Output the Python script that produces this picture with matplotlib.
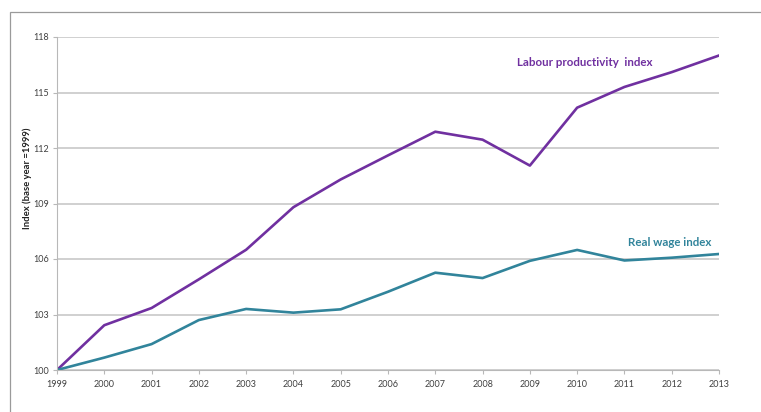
import matplotlib.pyplot as plt
from matplotlib.patches import Rectangle

years = [1999, 2000, 2001, 2002, 2003, 2004, 2005, 2006, 2007, 2008, 2009, 2010, 2011, 2012, 2013]
labour_productivity = [100, 102.42, 103.35, 104.9, 106.5, 108.8, 110.3, 111.6, 112.88, 112.45, 111.05, 114.18, 115.3, 116.1, 117.0]
real_wage = [100, 100.67, 101.4, 102.7, 103.3, 103.1, 103.28, 104.23, 105.26, 104.97, 105.9, 106.49, 105.92, 106.07, 106.27]
y_ticks = [100, 103, 106, 109, 112, 115, 118]

plt.rcParams['font.family'] = ['Lato', 'DejaVu Sans']

purple = '#7030a0'
teal = '#31849b'
txt = '#404040'

fig = plt.figure(figsize=(7.61, 4.12), dpi=100)
# outer frame like the pasted Excel chart
fig.patches.append(Rectangle((10 / 761, -0.1), 1.2, 1 - 12 / 412 + 0.1, transform=fig.transFigure,
                             fill=False, edgecolor='#9a9a9a', linewidth=0.9))

ax = fig.add_axes([57 / 761, 42 / 412, 662 / 761, 333 / 412])
ax.plot(years, labour_productivity, color=purple, linewidth=1.9, solid_joinstyle='round')
ax.plot(years, real_wage, color=teal, linewidth=1.9, solid_joinstyle='round')

ax.set_xlim(1999, 2013)
ax.set_ylim(100, 118)
ax.set_xticks(years)
ax.set_yticks(y_ticks)
ax.grid(axis='y', color='#d0d0d0', linewidth=1.4)
ax.set_axisbelow(True)

for s in ['top', 'right']:
    ax.spines[s].set_visible(False)
ax.spines['left'].set_color('#b8b8b8')
ax.spines['bottom'].set_color('#b8b8b8')
ax.tick_params(axis='both', colors='#b8b8b8', labelcolor=txt, labelsize=6.5, length=3, width=0.8)
ax.tick_params(axis='x', pad=4)
ax.tick_params(axis='y', pad=3)

fig.text(27 / 761, 1 - 178 / 412, 'Index (base year =1999)', rotation=90, fontsize=6.8,
         fontweight='bold', color='#202020', ha='center', va='center')

ax.text(2010.17, 116.6, 'Labour productivity  index', color=purple, fontsize=8.3,
        fontweight='bold', ha='center', va='center')
ax.text(2011.95, 106.88, 'Real wage index', color=teal, fontsize=8.3,
        fontweight='bold', ha='center', va='center')

fig.savefig('out.png', dpi=100)
